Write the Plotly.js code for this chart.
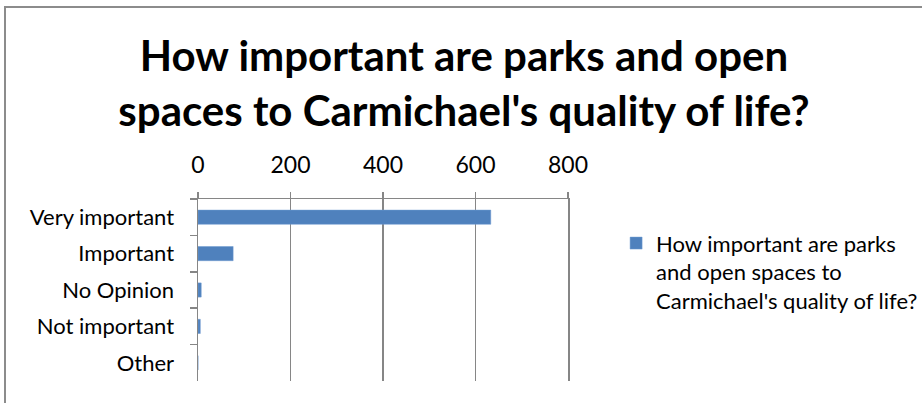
<!DOCTYPE html>
<html>
<head>
<meta charset="utf-8">
<script src="https://cdn.plot.ly/plotly-3.0.1.min.js"></script>
<style>
  html, body { margin: 0; padding: 0; background: #ffffff; }
  #frame { position: absolute; left: 4px; top: 6px; width: 930px; height: 410px;
           border-top: 2px solid #8c8c8c; border-left: 2px solid #8c8c8c; }
  #chart { position: absolute; left: 0; top: 0; width: 916px; height: 395px; }
</style>
</head>
<body>
<div id="frame"><div id="chart"></div></div>
<script>
const categories = ["Very important", "Important", "No Opinion", "Not important", "Other"];
const responses = [633, 76, 7, 5, 0];
const seriesName = "How important are parks<br>and open spaces to<br>Carmichael's quality of life?";
const chartTitle = "How important are parks and open<br>spaces to Carmichael's quality of life?";
const xTicks = [0, 200, 400, 600, 800];

const trace = {
  type: "bar",
  orientation: "h",
  x: responses,
  y: categories,
  name: seriesName,
  width: 0.39,
  marker: { color: "#4F81BD", line: { color: "#6f9bd1", width: 0.5 } },
  showlegend: true,
  hoverinfo: "x+y"
};

const layout = {
  width: 916, height: 395,
  margin: { l: 192, r: 354, t: 191, b: 22, pad: 0, autoexpand: false },
  paper_bgcolor: "#ffffff",
  plot_bgcolor: "#ffffff",
  font: { family: "Lato, 'Open Sans', sans-serif", color: "#000000", size: 22 },
  title: {
    text: chartTitle,
    font: { family: "Lato, 'Open Sans', sans-serif", size: 42, color: "#000000", weight: 700 },
    x: 0.5, xanchor: "center", xref: "container",
    y: 0.84, yanchor: "top", yref: "container"
  },
  xaxis: {
    side: "top",
    range: [0, 800],
    tickvals: xTicks,
    ticktext: xTicks.map(String),
    showgrid: true, gridcolor: "#868686", gridwidth: 1.5,
    showline: true, linecolor: "#868686", linewidth: 1.5,
    ticks: "outside", ticklen: 6, tickcolor: "#868686", tickwidth: 1.5,
    zeroline: false,
    ticklabelstandoff: 9,
    tickfont: { size: 23, color: "#000000" },
    fixedrange: true
  },
  yaxis: {
    type: "category",
    autorange: "reversed",
    categoryorder: "array", categoryarray: categories,
    showgrid: false,
    showline: true, mirror: true, linecolor: "#868686", linewidth: 1.5,
    ticks: "outside", ticklen: 7, tickcolor: "#868686", tickwidth: 1.5,
    tickson: "boundaries",
    ticklabelstandoff: 18,
    tickfont: { size: 22, color: "#000000" },
    fixedrange: true
  },
  legend: {
    x: 1.13, xanchor: "left",
    y: 0.6, yanchor: "middle",
    valign: "top",
    font: { size: 22, color: "#000000" },
    itemwidth: 30,
    bgcolor: "rgba(0,0,0,0)"
  },
  bargap: 0.61
};

Plotly.newPlot("chart", [trace], layout, { displayModeBar: false, staticPlot: true });
</script>
</body>
</html>
